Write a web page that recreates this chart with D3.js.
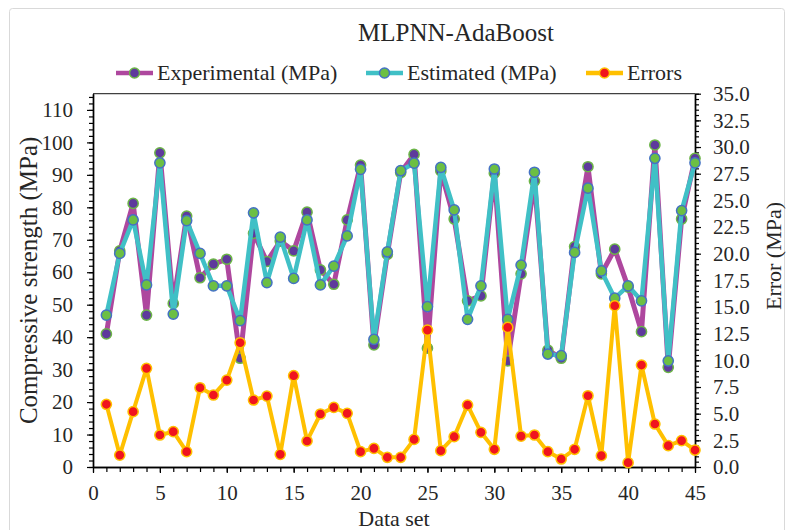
<!DOCTYPE html>
<html>
<head>
<meta charset="utf-8">
<script src="https://cdn.jsdelivr.net/npm/d3@7"></script>
<style>
  body { margin: 0; background: #fff; }
  svg text { font-family: "Liberation Serif", "Times New Roman", serif; fill: #262626; }
</style>
</head>
<body>
<svg id="chart" width="791" height="530" font-family="Liberation Serif, Times New Roman, serif"></svg>
<script>
// Sample index of each data set
const dataSet = d3.range(1, 46);

// Compressive strength, measured (MPa)
const experimental = [41.0, 66.6, 81.2, 46.8, 96.8, 50.4, 77.3, 58.3, 62.5, 64.0,
  33.5, 72.0, 63.3, 69.6, 66.6, 78.5, 60.7, 56.3, 76.1, 93.0,
  37.6, 65.5, 90.7, 96.3, 36.6, 91.2, 76.4, 51.2, 52.7, 90.5,
  32.7, 59.5, 88.1, 36.0, 33.5, 67.9, 92.5, 59.5, 67.1, 55.4,
  41.7, 99.2, 30.7, 76.4, 95.1];

// Compressive strength, predicted by MLPNN-AdaBoost (MPa)
const estimated = [46.8, 65.8, 76.1, 56.1, 93.7, 47.1, 75.9, 65.8, 55.8, 55.8,
  45.1, 78.3, 56.8, 70.8, 58.1, 76.1, 56.1, 61.9, 71.2, 91.7,
  39.3, 66.3, 91.3, 93.6, 49.4, 92.3, 79.2, 45.5, 55.8, 91.8,
  45.5, 62.2, 90.8, 34.8, 34.3, 66.1, 85.9, 60.4, 52.0, 55.8,
  51.2, 95.1, 32.7, 79.0, 93.7];

// Absolute prediction error (MPa)
const errors = [5.88, 1.12, 5.19, 9.25, 3.00, 3.31, 1.44, 7.43, 6.75, 8.15,
  11.65, 6.28, 6.65, 1.19, 8.56, 2.44, 4.97, 5.59, 5.03, 1.44,
  1.75, 0.91, 0.91, 2.59, 12.84, 1.53, 2.84, 5.81, 3.25, 1.66,
  13.09, 2.90, 3.00, 1.44, 0.75, 1.66, 6.68, 1.06, 15.12, 0.41,
  9.56, 4.03, 2.00, 2.47, 1.59];

// Tick values
const xTicks = d3.range(0, 46, 5);
const xMinorTicks = d3.range(0, 46, 1);
const leftTicks = d3.range(0, 111, 10);
const leftMinorTicks = d3.range(0, 115, 2);
const rightTicks = d3.range(0, 35.01, 2.5);
const rightMinorTicks = d3.range(0, 35.01, 0.5);

const FONT = '"Liberation Serif", "Times New Roman", serif';
const svg = d3.select("#chart");
const plot = { left: 93, right: 695, top: 93.7, bottom: 467 };

const x = d3.scaleLinear().domain([0, 45]).range([plot.left, plot.right]);
const yL = d3.scaleLinear().domain([0, 115]).range([plot.bottom, plot.top]);
const yR = d3.scaleLinear().domain([0, 35]).range([plot.bottom, plot.top]);

const colors = {
  expLine: "#AE479E", expFill: "#5E3A9C", expStroke: "#6CB547",
  estLine: "#40C0C6", estFill: "#6CBF43", estStroke: "#4472C4",
  errLine: "#FFC000", errFill: "#F0141E", errStroke: "#FFC000"
};

function addText(sel) {
  return sel.append("text").style("font-family", FONT).attr("fill", "#262626");
}

// Outer chart border
svg.append("rect")
  .attr("x", 9.5).attr("y", 8.5).attr("width", 775).attr("height", 540)
  .attr("rx", 3).attr("fill", "none").attr("stroke", "#d9d9d9");

// Title
addText(svg)
  .attr("x", 456).attr("y", 41)
  .attr("text-anchor", "middle").attr("font-size", 25)
  .text("MLPNN-AdaBoost");

// Legend
const legend = [
  { label: "Experimental (MPa)", x: 116, line: colors.expLine, fill: colors.expFill, stroke: colors.expStroke },
  { label: "Estimated (MPa)", x: 366, line: colors.estLine, fill: colors.estFill, stroke: colors.estStroke },
  { label: "Errors", x: 586, line: colors.errLine, fill: colors.errFill, stroke: colors.errStroke }
];
const lg = svg.append("g").selectAll("g").data(legend).join("g")
  .attr("transform", d => `translate(${d.x},73)`);
lg.append("line").attr("x1", 0).attr("x2", 37).attr("y1", 0).attr("y2", 0)
  .attr("stroke", d => d.line).attr("stroke-width", 4.5);
lg.append("circle").attr("cx", 18.5).attr("cy", 0).attr("r", 5)
  .attr("fill", d => d.fill).attr("stroke", d => d.stroke).attr("stroke-width", 1.5);
addText(lg).attr("x", 41).attr("y", 7).attr("font-size", 22).text(d => d.label);

// Plot frame (top edge; the other edges are axis lines)
svg.append("line")
  .attr("x1", plot.left).attr("x2", plot.right)
  .attr("y1", plot.top).attr("y2", plot.top)
  .attr("stroke", "#404040").attr("stroke-width", 1.3);

function styleAxis(g, size) {
  g.attr("font-family", null).attr("font-size", null);
  g.selectAll(".domain").attr("stroke", "#000").attr("stroke-width", 1.4);
  g.selectAll(".tick line").attr("stroke", "#000").attr("stroke-width", 1.2);
  g.selectAll(".tick text").attr("fill", "#262626")
    .style("font-family", FONT).attr("font-size", size || 21);
}

// Minor ticks
svg.append("g").attr("transform", `translate(0,${plot.bottom})`)
  .call(d3.axisBottom(x).tickValues(xMinorTicks).tickSize(5).tickFormat("").tickSizeOuter(0))
  .call(styleAxis);
svg.append("g").attr("transform", `translate(${plot.left},0)`)
  .call(d3.axisLeft(yL).tickValues(leftMinorTicks).tickSize(4).tickFormat("").tickSizeOuter(0))
  .call(styleAxis);
svg.append("g").attr("transform", `translate(${plot.right},0)`)
  .call(d3.axisRight(yR).tickValues(rightMinorTicks).tickSize(4).tickFormat("").tickSizeOuter(0))
  .call(styleAxis);

// Major ticks with labels
svg.append("g").attr("transform", `translate(0,${plot.bottom})`)
  .call(d3.axisBottom(x).tickValues(xTicks).tickSize(6).tickPadding(12).tickSizeOuter(0))
  .call(g => styleAxis(g, 21));
svg.append("g").attr("transform", `translate(${plot.left},0)`)
  .call(d3.axisLeft(yL).tickValues(leftTicks).tickSize(6).tickPadding(14).tickSizeOuter(0))
  .call(g => styleAxis(g, 21));
svg.append("g").attr("transform", `translate(${plot.right},0)`)
  .call(d3.axisRight(yR).tickValues(rightTicks).tickSize(6).tickPadding(12)
    .tickFormat(d3.format(".1f")).tickSizeOuter(0))
  .call(g => styleAxis(g, 21));

// Axis titles
addText(svg)
  .attr("transform", `translate(37,${(plot.top + plot.bottom) / 2}) rotate(-90)`)
  .attr("text-anchor", "middle").attr("font-size", 25)
  .text("Compressive strength (MPa)");
addText(svg)
  .attr("transform", `translate(781,256) rotate(-90)`)
  .attr("text-anchor", "middle").attr("font-size", 22)
  .text("Error (MPa)");
addText(svg)
  .attr("x", (plot.left + plot.right) / 2).attr("y", 526)
  .attr("text-anchor", "middle").attr("font-size", 22)
  .text("Data set");

// Series
function drawSeries(values, scale, c, width) {
  const pts = dataSet.map((d, i) => [x(d), scale(values[i])]);
  svg.append("path")
    .attr("d", d3.line()(pts))
    .attr("fill", "none").attr("stroke", c.line).attr("stroke-width", width)
    .attr("stroke-linejoin", "round");
  svg.append("g").selectAll("circle").data(pts).join("circle")
    .attr("cx", p => p[0]).attr("cy", p => p[1]).attr("r", 5.1)
    .attr("fill", c.fill).attr("stroke", c.stroke).attr("stroke-width", 1.5);
}
drawSeries(experimental, yL, { line: colors.expLine, fill: colors.expFill, stroke: colors.expStroke }, 5);
drawSeries(estimated, yL, { line: colors.estLine, fill: colors.estFill, stroke: colors.estStroke }, 4.5);
drawSeries(errors, yR, { line: colors.errLine, fill: colors.errFill, stroke: colors.errStroke }, 4);
</script>
</body>
</html>
